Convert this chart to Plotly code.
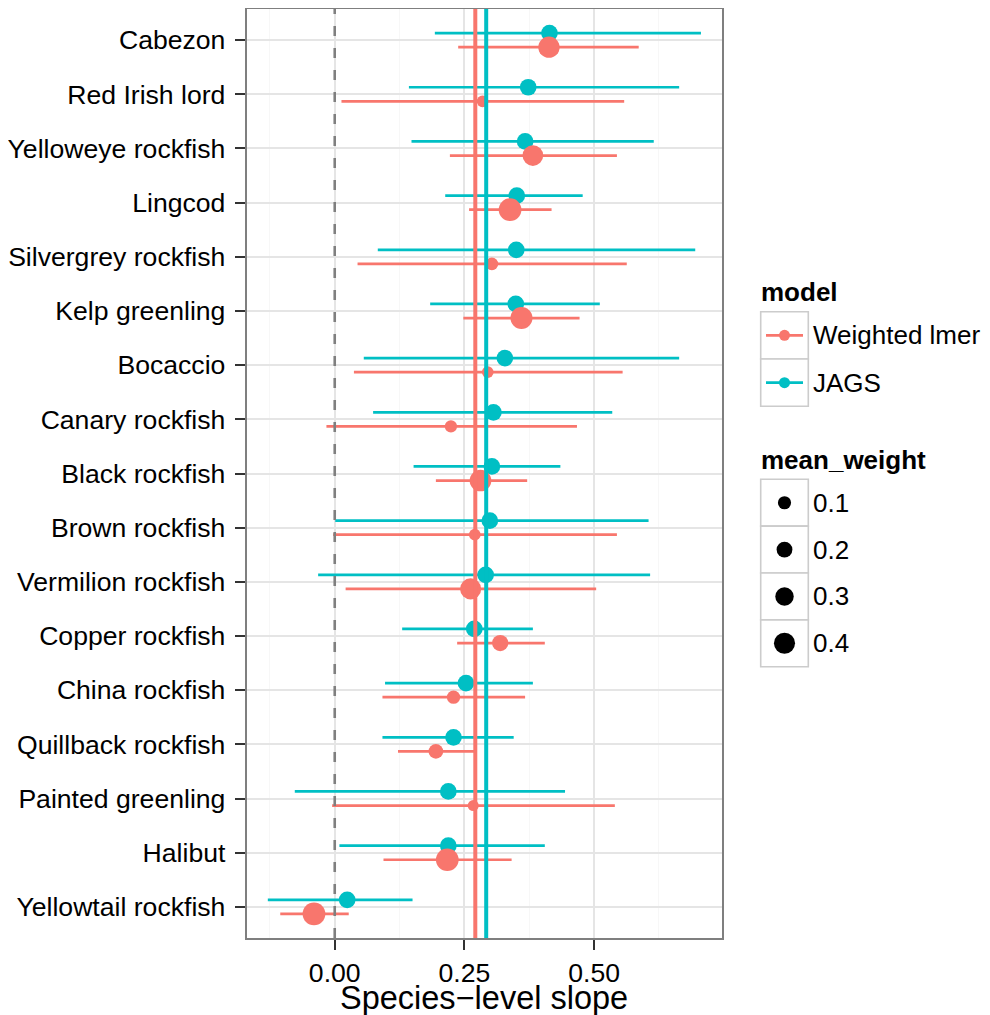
import plotly.graph_objects as go

# ---------------- data ----------------
species = ["Cabezon", "Red Irish lord", "Yelloweye rockfish", "Lingcod",
           "Silvergrey rockfish", "Kelp greenling", "Bocaccio", "Canary rockfish",
           "Black rockfish", "Brown rockfish", "Vermilion rockfish", "Copper rockfish",
           "China rockfish", "Quillback rockfish", "Painted greenling", "Halibut",
           "Yellowtail rockfish"]

jags_est = [0.414, 0.373, 0.367, 0.351, 0.350, 0.349, 0.328, 0.306, 0.303,
            0.299, 0.291, 0.269, 0.253, 0.229, 0.219, 0.219, 0.024]
jags_lo = [0.193, 0.143, 0.148, 0.213, 0.083, 0.184, 0.056, 0.074, 0.152,
           0.001, -0.032, 0.130, 0.097, 0.092, -0.077, 0.009, -0.129]
jags_hi = [0.706, 0.664, 0.615, 0.478, 0.695, 0.511, 0.664, 0.535, 0.435,
           0.605, 0.608, 0.382, 0.382, 0.345, 0.444, 0.405, 0.150]
jags_weight = [0.234] * 17

lmer_est = [0.413, 0.285, 0.382, 0.338, 0.303, 0.360, 0.295, 0.224, 0.281,
            0.270, 0.262, 0.319, 0.229, 0.195, 0.267, 0.217, -0.040]
lmer_lo = [0.238, 0.013, 0.222, 0.259, 0.044, 0.248, 0.037, -0.016, 0.195,
           -0.003, 0.021, 0.236, 0.092, 0.122, -0.005, 0.094, -0.105]
lmer_hi = [0.586, 0.558, 0.544, 0.418, 0.563, 0.472, 0.555, 0.467, 0.371,
           0.544, 0.504, 0.405, 0.367, 0.269, 0.540, 0.341, 0.027]
lmer_weight = [0.41, 0.045, 0.385, 0.46, 0.083, 0.434, 0.045, 0.068, 0.42,
               0.045, 0.40, 0.22, 0.106, 0.16, 0.02, 0.46, 0.46]

mean_lmer = 0.271
mean_jags = 0.292

x_tickvals = [0.0, 0.25, 0.5]
x_ticktext = ["0.00", "0.25", "0.50"]

model_names = ["Weighted lmer", "JAGS"]
model_colors = ["#F8766D", "#00BFC4"]
legend_weights = [0.1, 0.2, 0.3, 0.4]
legend_weight_text = ["0.1", "0.2", "0.3", "0.4"]

# ---------------- helpers ----------------
FONT = "Liberation Sans, Arial, Helvetica, sans-serif"
FS = 26.6      # axis tick labels
LFS = 26       # legend text
n = len(species)
ypos = [n - i for i in range(n)]
DODGE = 0.13

# page offset of the figure (default body margin)
OFF = 8
W, H = 990 - OFF, 1015 - OFF
PA_X0, PA_X1 = 10, 980      # plot area in page px
PA_Y0, PA_Y1 = 9, 938


def diam(w):
    return 10.5 + 26.5 * w


def xdom(px):
    return (px - PA_X0) / (PA_X1 - PA_X0)


fig = go.Figure()

# JAGS first, lmer on top
for est, lo, hi, wt, col, off in [
    (jags_est, jags_lo, jags_hi, jags_weight, model_colors[1], DODGE),
    (lmer_est, lmer_lo, lmer_hi, lmer_weight, model_colors[0], -DODGE),
]:
    fig.add_trace(go.Scatter(
        x=est, y=[y + off for y in ypos], mode="markers",
        marker=dict(color=col, size=[diam(w) for w in wt], line=dict(width=0), opacity=1),
        error_x=dict(type="data", symmetric=False,
                     array=[h - e for h, e in zip(hi, est)],
                     arrayminus=[e - l for e, l in zip(est, lo)],
                     color=col, thickness=2.7, width=0),
        showlegend=False, hoverinfo="skip", xaxis="x", yaxis="y",
    ))

shapes = []
shapes.append(dict(type="line", xref="x", yref="y domain", x0=0, x1=0, y0=0, y1=1,
                   line=dict(color="#7F7F7F", width=2.6, dash="10px,12px"), layer="above"))
shapes.append(dict(type="line", xref="x", yref="y domain", x0=mean_lmer, x1=mean_lmer,
                   y0=0, y1=1, line=dict(color=model_colors[0], width=4), layer="above"))
shapes.append(dict(type="line", xref="x", yref="y domain", x0=mean_jags, x1=mean_jags,
                   y0=0, y1=1, line=dict(color=model_colors[1], width=4), layer="above"))

annotations = []
annotations.append(dict(text="Species\u2212level slope", xref="paper", yref="paper",
                        x=xdom(484.2), y=(PA_Y1 - 998) / (PA_Y1 - PA_Y0), xanchor="center",
                        yanchor="middle", showarrow=False,
                        font=dict(family=FONT, size=32.5, color="black")))

# ---------------- legend built on an auxiliary pixel axis (page px) ----------------
KX0, KX1 = 760.7, 808.3
KEY_H = 47.3
box_col = "#CCCCCC"

annotations.append(dict(text="<b>model</b>", xref="x2", yref="y2", x=759, y=292,
                        xanchor="left", yanchor="middle", showarrow=False,
                        font=dict(family=FONT, size=LFS, color="black")))
model_top = 311.7
for i, (name, col) in enumerate(zip(model_names, model_colors)):
    y0 = model_top + i * KEY_H
    yc = y0 + KEY_H / 2
    shapes.append(dict(type="rect", xref="x2", yref="y2", x0=KX0, x1=KX1, y0=y0, y1=y0 + KEY_H,
                       line=dict(color=box_col, width=1.6), fillcolor="white", layer="below"))
    shapes.append(dict(type="line", xref="x2", yref="y2", x0=766, x1=803, y0=yc, y1=yc,
                       line=dict(color=col, width=2.7), layer="above"))
    fig.add_trace(go.Scatter(x=[(KX0 + KX1) / 2], y=[yc], mode="markers",
                             marker=dict(color=col, size=11, line=dict(width=0)),
                             xaxis="x2", yaxis="y2", showlegend=False, hoverinfo="skip"))
    annotations.append(dict(text=name, xref="x2", yref="y2", x=811, y=yc,
                            xanchor="left", yanchor="middle", showarrow=False,
                            font=dict(family=FONT, size=LFS, color="black")))

annotations.append(dict(text="<b>mean_weight</b>", xref="x2", yref="y2", x=759, y=460,
                        xanchor="left", yanchor="middle", showarrow=False,
                        font=dict(family=FONT, size=LFS, color="black")))
size_top = 479.3
SKEY_H = 46.85
for i, (w, t) in enumerate(zip(legend_weights, legend_weight_text)):
    y0 = size_top + i * SKEY_H
    yc = y0 + SKEY_H / 2
    shapes.append(dict(type="rect", xref="x2", yref="y2", x0=KX0, x1=KX1, y0=y0, y1=y0 + SKEY_H,
                       line=dict(color=box_col, width=1.6), fillcolor="white", layer="below"))
    fig.add_trace(go.Scatter(x=[(KX0 + KX1) / 2], y=[yc], mode="markers",
                             marker=dict(color="black", size=diam(w), line=dict(width=0)),
                             xaxis="x2", yaxis="y2", showlegend=False, hoverinfo="skip"))
    annotations.append(dict(text=t, xref="x2", yref="y2", x=811, y=yc,
                            xanchor="left", yanchor="middle", showarrow=False,
                            font=dict(family=FONT, size=LFS, color="black")))

# ---------------- layout ----------------
fig.update_layout(
    width=W, height=H,
    margin=dict(l=PA_X0 - OFF, r=W - (PA_X1 - OFF), t=PA_Y0 - OFF, b=H - (PA_Y1 - OFF), pad=0),
    paper_bgcolor="white", plot_bgcolor="white",
    font=dict(family=FONT, size=FS, color="black"),
    showlegend=False,
    shapes=shapes, annotations=annotations,
    xaxis=dict(domain=[xdom(246.7), xdom(721.7)],
               range=[-0.1697, 0.746], tickvals=x_tickvals, ticktext=x_ticktext,
               showgrid=True, gridcolor="#E5E5E5", gridwidth=1.5,
               minor=dict(dtick=0.125, tick0=0.125, showgrid=True, gridcolor="#F7F7F7", gridwidth=1.2),
               zeroline=False, showline=True, mirror=True, linecolor="#7F7F7F", linewidth=2,
               ticks="outside", ticklen=10, tickwidth=2, tickcolor="#333333",
               tickfont=dict(family=FONT, size=FS, color="black"),
               anchor="y", automargin=False),
    yaxis=dict(domain=[0, 1], range=[0.425, 17.575],
               tickvals=ypos, ticktext=species,
               showgrid=True, gridcolor="#E5E5E5", gridwidth=1.5,
               zeroline=False, showline=True, mirror=True, linecolor="#7F7F7F", linewidth=2,
               ticks="outside", ticklen=10, tickwidth=2, tickcolor="#333333",
               ticklabelstandoff=4,
               tickfont=dict(family=FONT, size=FS, color="black"),
               anchor="x", automargin=False),
    xaxis2=dict(domain=[xdom(740), 1.0], range=[740, PA_X1], visible=False,
                anchor="y2", fixedrange=True),
    yaxis2=dict(domain=[0, 1], range=[PA_Y1, PA_Y0], visible=False, anchor="x2", fixedrange=True),
)

fig.write_html("out.html")
